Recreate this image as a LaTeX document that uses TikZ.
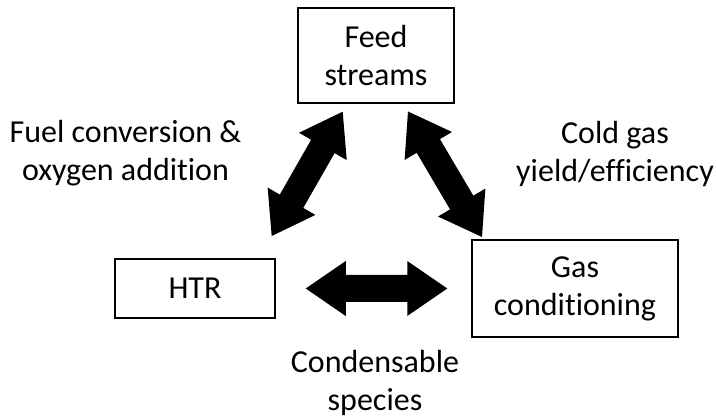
\documentclass[tikz,border=0pt]{standalone}
\usepackage{fontspec}
\setmainfont{Carlito}[Ligatures={NoCommon}]
\usetikzlibrary{calc}

\begin{document}
\begin{tikzpicture}[x=1pt, y=1pt,
    box/.style={draw, line width=1.5pt, align=center, inner sep=0pt},
    lbl/.style={align=center, inner sep=0pt},
    bigarrow/.style={to path={
      let \p1=($(\tikztotarget)-(\tikztostart)$), \n1={atan2(\y1,\x1)}, \n2={veclen(\x1,\y1)} in
      [shift={(\tikztostart)}, rotate=\n1]
      (0,0) -- (40,27.5) -- (40,13.5) -- (\n2-40,13.5) -- (\n2-40,27.5) -- (\n2,0)
      -- (\n2-40,-27.5) -- (\n2-40,-13.5) -- (40,-13.5) -- (40,-27.5) -- cycle}}]
  \useasboundingbox (0, 0) rectangle (716, 420);
  \fontsize{32}{38}\selectfont
  \draw (376, 364.5) node[box, minimum width=156, minimum height=95] (feed) {Feed\\streams};
  \draw (195, 131.5) node[box, minimum width=160, minimum height=59] (htr) {HTR};
  \draw (575, 131.5) node[box, minimum width=206, minimum height=97] (gas) {Gas\\conditioning};
  \draw (125.5, 266.5) node[lbl] (fuel) {Fuel conversion \&\\oxygen addition};
  \draw (615, 266.5) node[lbl] (cold) {Cold gas\\yield/efficiency};
  \draw (375, 37.5) node[lbl] (cond) {Condensable\\species};
  \draw (271.7, 184) coordinate (l1) {};
  \draw (342.7, 308.3) coordinate (l2) {};
  \draw (408, 308.5) coordinate (r1) {};
  \draw (482, 183) coordinate (r2) {};
  \draw ([xshift=30]htr.east) coordinate (h1) {};
  \draw ([xshift=-24]gas.west) coordinate (h2) {};
  \fill (l1) to[bigarrow] (l2);
  \fill (r1) to[bigarrow] (r2);
  \fill (h1) to[bigarrow] (h2);
\end{tikzpicture}
\end{document}
